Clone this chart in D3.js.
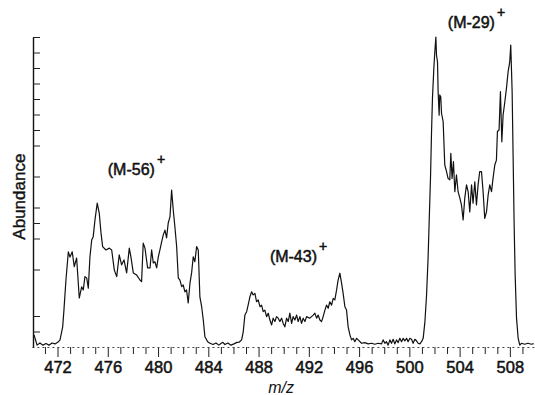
<!DOCTYPE html>
<html>
<head>
<meta charset="utf-8">
<script src="https://cdn.jsdelivr.net/npm/d3@7"></script>
<style>
  body { margin: 0; background: #fff; }
  text { font-family: "Liberation Sans", Arial, sans-serif; fill: #111; }
</style>
</head>
<body>
<div id="chart"></div>
<script>
// m/z values
const mz = [
  470.13, 470.25, 470.37, 470.60, 470.84, 471.08, 471.32, 471.56, 471.80, 472.04,
  472.20, 472.41, 472.51, 472.67, 472.86, 472.99, 473.17, 473.33, 473.52, 473.73,
  473.92, 474.05, 474.18, 474.32, 474.45, 474.58, 474.72, 474.84, 474.98, 475.16,
  475.32, 475.46, 475.59, 475.85, 476.12, 476.31, 476.52, 476.71, 476.91, 477.10,
  477.29, 477.50, 477.71, 477.84, 478.03, 478.30, 478.56, 478.69, 478.82, 478.96,
  479.17, 479.36, 479.49, 479.62, 479.75, 479.89, 480.02, 480.15, 480.29, 480.41,
  480.55, 480.68, 480.81, 480.95, 481.08, 481.21, 481.34, 481.48, 481.61, 481.74,
  481.88, 482.00, 482.14, 482.27, 482.40, 482.54, 482.67, 482.80, 482.93, 483.07,
  483.20, 483.33, 483.47, 483.60, 483.73, 483.95, 484.13, 484.37, 484.61, 484.84,
  485.00, 485.16, 485.32, 485.56, 485.80, 486.04, 486.28, 486.47, 486.65, 486.78,
  486.91, 487.05, 487.17, 487.31, 487.45, 487.57, 487.71, 487.84, 487.97, 488.11,
  488.24, 488.37, 488.50, 488.64, 488.77, 488.90, 489.04, 489.16, 489.30, 489.43,
  489.56, 489.70, 489.83, 489.96, 490.09, 490.23, 490.36, 490.49, 490.63, 490.75,
  490.89, 491.03, 491.15, 491.29, 491.42, 491.55, 491.69, 491.82, 492.08, 492.35,
  492.48, 492.62, 492.74, 492.88, 493.01, 493.14, 493.28, 493.41, 493.54, 493.67,
  493.81, 493.94, 494.07, 494.21, 494.33, 494.47, 494.61, 494.73, 494.87, 495.00,
  495.13, 495.27, 495.40, 495.53, 495.66, 495.80, 495.93, 496.20, 496.46, 496.72,
  496.99, 497.25, 497.52, 497.79, 497.91, 498.05, 498.18, 498.31, 498.45, 498.58,
  498.71, 498.84, 498.98, 499.11, 499.24, 499.38, 499.51, 499.64, 499.78, 499.90,
  500.04, 500.17, 500.30, 500.44, 500.57, 500.70, 500.84, 500.97, 501.10, 501.24,
  501.37, 501.49, 501.57, 501.69, 501.76, 501.84, 501.95, 502.03, 502.11, 502.16,
  502.24, 502.29, 502.37, 502.42, 502.50, 502.56, 502.69, 502.82, 502.96, 503.08,
  503.22, 503.30, 503.40, 503.51, 503.62, 503.75, 503.88, 504.02, 504.15, 504.28,
  504.41, 504.55, 504.68, 504.81, 504.95, 505.07, 505.21, 505.34, 505.47, 505.60,
  505.74, 505.87, 506.00, 506.14, 506.27, 506.40, 506.54, 506.66, 506.80, 506.93,
  507.01, 507.14, 507.25, 507.36, 507.46, 507.60, 507.73, 507.86, 507.99, 508.07,
  508.18, 508.26, 508.34, 508.42, 508.53, 508.66, 508.79, 508.92, 509.18, 509.44,
  509.71, 509.89
];
// relative abundance, 0-100
const abundance = [
  3.9, 2.3, 0.6, 1.3, 0.6, 1.1, 0.6, 1.3, 1.0, 1.6,
  2.3, 6.5, 11.9, 21.6, 30.7, 29.0, 30.7, 25.9, 28.7, 15.8,
  19.4, 18.4, 22.7, 22.3, 19.0, 29.1, 34.5, 35.6, 41.0, 46.4,
  43.2, 36.8, 32.4, 31.3, 31.9, 31.3, 24.8, 22.7, 29.7, 26.5,
  28.1, 23.9, 31.9, 29.1, 23.9, 23.2, 21.6, 21.1, 33.5, 31.9,
  25.5, 25.5, 31.3, 27.1, 27.5, 25.5, 29.1, 31.3, 34.0, 36.1,
  37.7, 35.2, 40.0, 42.0, 50.6, 44.2, 38.8, 32.4, 22.3, 21.6,
  19.5, 20.0, 17.8, 18.4, 14.2, 20.6, 23.9, 29.1, 27.5, 32.4,
  31.3, 16.2, 13.0, 8.7, 3.3, 1.7, 1.2, 0.8, 1.3, 0.6,
  1.1, 1.5, 0.8, 1.3, 0.6, 1.0, 1.5, 1.6, 2.3, 4.9,
  10.3, 11.4, 13.5, 16.2, 17.8, 16.8, 17.3, 14.6, 15.2, 13.0,
  13.5, 11.4, 11.9, 9.8, 10.9, 8.7, 7.1, 9.3, 8.2, 9.8,
  9.3, 8.2, 9.3, 7.6, 6.5, 9.3, 8.2, 10.9, 7.6, 9.8,
  8.7, 10.3, 8.2, 9.8, 7.6, 9.3, 8.2, 9.8, 9.3, 10.3,
  10.9, 9.3, 10.3, 8.7, 8.2, 9.8, 11.9, 13.5, 12.5, 14.6,
  13.5, 15.7, 15.2, 18.4, 21.6, 23.8, 20.5, 17.3, 13.0, 11.9,
  6.5, 3.9, 2.3, 2.8, 1.7, 2.8, 2.3, 1.2, 1.4, 1.0,
  1.2, 0.9, 1.2, 1.0, 2.3, 1.2, 1.7, 0.6, 2.3, 1.2,
  2.5, 1.0, 2.3, 1.4, 2.8, 1.7, 2.8, 2.0, 2.8, 1.7,
  2.8, 2.5, 1.2, 2.5, 2.0, 1.2, 1.0, 1.7, 2.8, 8.2,
  16.8, 28.6, 39.4, 55.5, 68.4, 80.3, 90.0, 95.3, 100.0, 94.2,
  92.0, 82.4, 74.8, 81.3, 80.7, 75.4, 72.7, 58.7, 56.6, 54.4,
  53.9, 62.5, 54.4, 59.8, 50.1, 55.5, 50.1, 48.0, 45.8, 41.0,
  48.0, 52.3, 50.1, 43.6, 52.3, 46.4, 53.3, 45.8, 52.3, 56.6,
  56.6, 50.1, 41.5, 43.6, 49.0, 52.3, 50.1, 54.4, 58.7, 60.3,
  69.5, 70.0, 82.4, 66.2, 74.8, 79.1, 83.5, 88.8, 92.0, 97.4,
  82.4, 60.9, 39.4, 23.2, 9.3, 2.8, 0.6, 1.2, 0.9, 1.2,
  0.9, 1.1
];

const xLabels = [472, 476, 480, 484, 488, 492, 496, 500, 504, 508];
const yTicks = [100, 95, 90, 85, 80, 75, 70, 65, 55, 45, 40, 35, 25, 10, 5];

// labels sit with their left edge at these positions
const peakNames = ["(M-56)", "(M-43)", "(M-29)"];
const peakMz = [476.0, 488.9, 503.06];
const peakAbundance = [55.5, 27.4, 102.9];

const width = 535, height = 395;

const svg = d3.select('#chart')
  .append('svg')
  .attr('width', width)
  .attr('height', height);

const x = d3.scaleLinear().domain([470, 510]).range([32.4, 535]);
const y = d3.scaleLinear().domain([0, 100]).range([347, 37]);

// x axis: ticks every unit, labels every 4
const xAxis = d3.axisBottom(x)
  .tickValues(d3.range(471, 510))
  .tickSize(7)
  .tickSizeOuter(0)
  .tickFormat(d => xLabels.includes(d) ? d : '');

const gx = svg.append('g')
  .attr('transform', `translate(0,${y(0)})`)
  .call(xAxis);
gx.select('.domain').remove();
gx.selectAll('.tick line')
  .attr('stroke', '#222')
  .attr('stroke-width', 1)
  .attr('y2', d => xLabels.includes(d) ? 10 : 7);
gx.selectAll('.tick text')
  .attr('y', 14)
  .attr('font-size', 16.5)
  .attr('fill', '#111')
  .attr('stroke', '#111')
  .attr('stroke-width', 0.5)
  .style('font-family', '"Liberation Sans", Arial, sans-serif');

// dotted baseline like the scan
svg.append('line')
  .attr('x1', x(470)).attr('x2', x(510))
  .attr('y1', y(0) + 0.5).attr('y2', y(0) + 0.5)
  .attr('stroke', '#444')
  .attr('stroke-width', 1)
  .attr('stroke-dasharray', '2,3');

// y axis, ticks pointing inward
const yAxis = d3.axisRight(y)
  .tickValues(yTicks)
  .tickSize(7)
  .tickSizeOuter(0)
  .tickFormat('');

const gy = svg.append('g')
  .attr('transform', `translate(${x(470) + 0.6},0)`)
  .call(yAxis);
gy.select('.domain').attr('stroke', '#111').attr('stroke-width', 1.4);
gy.selectAll('.tick line').attr('stroke', '#222').attr('stroke-width', 1);

// spectrum
const line = d3.line()
  .x((d, i) => x(mz[i]))
  .y(d => y(d));

svg.append('path')
  .datum(abundance)
  .attr('d', line)
  .attr('fill', 'none')
  .attr('stroke', '#111')
  .attr('stroke-width', 1.2)
  .attr('stroke-linejoin', 'round');

// peak labels
peakNames.forEach((name, i) => {
  const t = svg.append('text')
    .attr('x', x(peakMz[i]))
    .attr('y', y(peakAbundance[i]))
    .attr('font-size', 16)
    .attr('stroke', '#111')
    .attr('stroke-width', 0.5);
  t.append('tspan').text(name);
  t.append('tspan')
    .attr('dx', 2)
    .attr('dy', -11)
    .attr('font-size', 14)
    .text('+');
});

// axis titles
svg.append('text')
  .attr('transform', `translate(25,${y(48.5)}) rotate(-90)`)
  .attr('text-anchor', 'middle')
  .attr('font-size', 17)
  .attr('stroke', '#111')
  .attr('stroke-width', 0.4)
  .text('Abundance');

svg.append('text')
  .attr('x', x(489.8))
  .attr('y', 393)
  .attr('text-anchor', 'middle')
  .attr('font-size', 16)
  .attr('font-style', 'italic')
  .text('m/z');
</script>
</body>
</html>
